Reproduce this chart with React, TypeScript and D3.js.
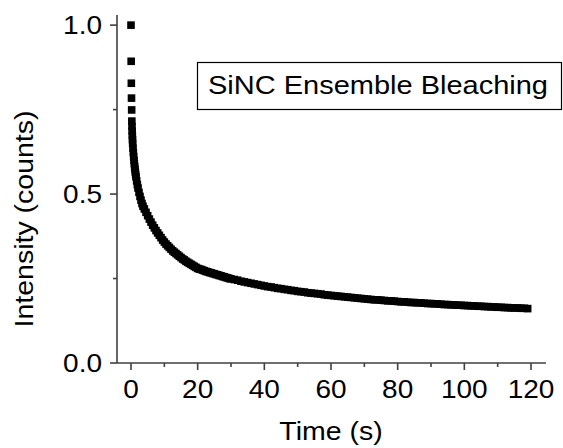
import React, { useEffect, useRef } from 'react';
import * as d3 from 'd3';

// bleaching trace
const timeS = [
  0, 0.05, 0.1, 0.15, 0.2, 0.25, 0.3, 0.35, 0.4, 0.45, 0.5, 0.6, 0.7, 0.8, 0.9, 1.0,
  1.1, 1.2, 1.3, 1.4, 1.5, 1.7, 1.9, 2.1, 2.4, 2.7, 3.0, 3.3, 3.6, 4.0, 4.5, 5.0,
  5.5, 6.0, 6.5, 7.0, 7.5, 8, 8.5, 9, 9.5, 10, 10.5, 11, 11.5, 12, 12.5, 13, 13.5, 14, 14.5, 15,
  15.5, 16, 16.5, 17, 17.5, 18, 18.5, 19, 19.5, 20, 20.5, 21, 21.5, 22, 22.5, 23, 23.5, 24, 24.5, 25,
  25.5, 26, 26.5, 27, 27.5, 28, 28.5, 29, 29.5, 30, 31, 32, 33, 34, 35, 36, 37, 38, 39, 40,
  41, 42, 43, 44, 45, 46, 47, 48, 49, 50, 51, 52, 53, 54, 55, 56, 57, 58, 59, 60,
  61, 62, 63, 64, 65, 66, 67, 68, 69, 70, 71, 72, 73, 74, 75, 76, 77, 78, 79, 80,
  81, 82, 83, 84, 85, 86, 87, 88, 89, 90, 91, 92, 93, 94, 95, 96, 97, 98, 99, 100,
  101, 102, 103, 104, 105, 106, 107, 108, 109, 110, 111, 112, 113, 114, 115, 116, 117, 118, 119,
];
const intensity = [
  1.0, 0.893, 0.828, 0.784, 0.749, 0.716, 0.7, 0.686, 0.673, 0.661, 0.65, 0.636, 0.623, 0.611, 0.6, 0.59,
  0.581, 0.573, 0.565, 0.558, 0.551, 0.539, 0.528, 0.518, 0.505, 0.493, 0.482, 0.472, 0.464, 0.456, 0.446, 0.436,
  0.426, 0.417, 0.408, 0.4, 0.392, 0.385, 0.378, 0.371, 0.364, 0.358, 0.352, 0.347, 0.342, 0.337, 0.332, 0.328, 0.324, 0.32, 0.316, 0.312,
  0.308, 0.305, 0.301, 0.298, 0.295, 0.292, 0.289, 0.286, 0.283, 0.28, 0.278, 0.277, 0.275, 0.273, 0.271, 0.27, 0.268, 0.267, 0.265, 0.264,
  0.262, 0.261, 0.259, 0.258, 0.256, 0.255, 0.253, 0.252, 0.25, 0.249, 0.247, 0.245, 0.242, 0.24, 0.238, 0.236, 0.234, 0.232, 0.23, 0.228,
  0.226, 0.225, 0.223, 0.221, 0.22, 0.218, 0.217, 0.215, 0.214, 0.212, 0.211, 0.21, 0.208, 0.207, 0.206, 0.205, 0.204, 0.202, 0.201, 0.2,
  0.199, 0.198, 0.197, 0.196, 0.195, 0.194, 0.193, 0.192, 0.191, 0.19, 0.189, 0.188, 0.187, 0.187, 0.186, 0.185, 0.184, 0.184, 0.183, 0.182,
  0.181, 0.181, 0.18, 0.179, 0.179, 0.178, 0.178, 0.177, 0.176, 0.176, 0.175, 0.175, 0.174, 0.173, 0.173, 0.172, 0.172, 0.171, 0.171, 0.17,
  0.17, 0.169, 0.169, 0.168, 0.168, 0.167, 0.167, 0.166, 0.166, 0.165, 0.165, 0.164, 0.164, 0.163, 0.163, 0.163, 0.162, 0.162, 0.161,
];

const xTicks = [0, 20, 40, 60, 80, 100, 120];
const xMinorTicks = [10, 30, 50, 70, 90, 110];
const yTicks = [0, 0.5, 1.0];
const yMinorTicks = [0.25, 0.75];
const legendLabel = 'SiNC Ensemble Bleaching';

const font = 'Arial, "Liberation Sans", sans-serif';

const x = d3.scaleLinear().domain([-4.2, 124.5]).range([117, 546]);
const y = d3.scaleLinear().domain([0, 1.03]).range([363, 15]);

const App = () => {
  const gRef = useRef<SVGGElement>(null);
  const [x0, x1] = x.range();
  const [y0, y1] = y.range();

  useEffect(() => {
    const g = d3.select(gRef.current);
    g.selectAll('*').remove();

    // data squares
    const pts = timeS.map((t, i) => ({ t, v: intensity[i] }));
    g.selectAll('rect')
      .data(pts)
      .enter()
      .append('rect')
      .attr('x', d => x(d.t) - 3.8)
      .attr('y', d => y(d.v) - 3.8)
      .attr('width', 7.6)
      .attr('height', 7.6)
      .attr('fill', '#000');
  }, []);

  return (
    <svg width={563} height={448} style={{ position: 'absolute', left: 0, top: 0, background: '#fff' }}>
      <g ref={gRef} />

      {/* axes */}
      <g stroke="#404040" strokeWidth={1.6} fill="none">
        <line x1={x0} y1={y1} x2={x0} y2={y0} />
        <line x1={x0} y1={y0} x2={x1} y2={y0} />
        {xTicks.map(t => (
          <line key={'xM' + t} x1={x(t)} x2={x(t)} y1={y0} y2={y0 + 7} />
        ))}
        {xMinorTicks.map(t => (
          <line key={'xm' + t} x1={x(t)} x2={x(t)} y1={y0} y2={y0 + 4} />
        ))}
        {yTicks.map(v => (
          <line key={'yM' + v} x1={x0 - 7} x2={x0} y1={y(v)} y2={y(v)} />
        ))}
        {yMinorTicks.map(v => (
          <line key={'ym' + v} x1={x0 - 4} x2={x0} y1={y(v)} y2={y(v)} />
        ))}
      </g>

      {/* tick labels */}
      <g fontFamily={font} fontSize={25} fill="#000">
        {xTicks.map(t => (
          <text key={'xl' + t} transform={`translate(${x(t)}, ${y0 + 35}) scale(1.12, 1)`} textAnchor="middle">
            {d3.format('d')(t)}
          </text>
        ))}
        {yTicks.map(v => (
          <text key={'yl' + v} transform={`translate(${x0 - 15}, ${y(v) + 9}) scale(1.12, 1)`} textAnchor="end">
            {d3.format('.1f')(v)}
          </text>
        ))}

        {/* axis titles */}
        <text transform="translate(331, 440) scale(1.14, 1)" textAnchor="middle">
          Time (s)
        </text>
        <text transform="translate(33, 219) rotate(-90) scale(1.14, 1)" textAnchor="middle">
          Intensity (counts)
        </text>
      </g>

      {/* legend box */}
      <rect x={197.5} y={62.5} width={364} height={47} fill="#fff" stroke="#000" strokeWidth={1.2} />
      <text transform="translate(208, 94) scale(1.16, 1)" fontFamily={font} fontSize={25}>
        {legendLabel}
      </text>
    </svg>
  );
};

export default App;
